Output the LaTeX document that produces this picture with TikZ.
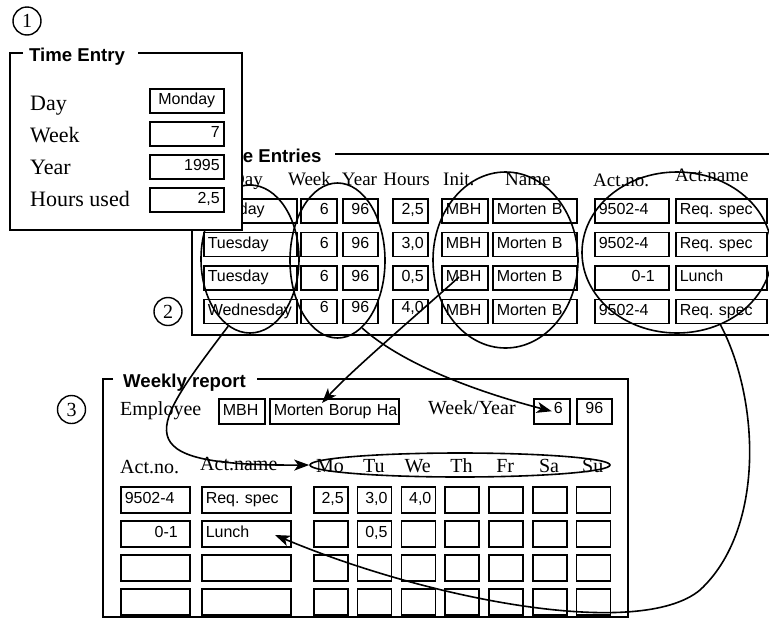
\documentclass[tikz,border=0pt]{standalone}
\usepackage{fontspec}
\setmainfont{Liberation Serif}
\newfontfamily\sansf{Liberation Sans}
\usetikzlibrary{arrows.meta,shapes.geometric}
\newcommand\fb[7][]{\pgfmathsetmacro\fbw{#5-8}\node[fld,#1,text width=\fbw pt,align=#6] (#2) at (#3,#4) {\mbox{#7}};}
\begin{document}
\frenchspacing
\begin{tikzpicture}[x=1pt,y=-1pt,
  frame/.style={line width=1.7pt},
  fld/.style={draw,line width=1.5pt,anchor=north west,minimum height=24pt,inner xsep=4pt,inner ysep=0pt,text height=11.5pt,text depth=3.5pt,font=\sansf\fontsize{16}{18}\selectfont},
  raised/.style={text depth=10pt},
  ttl/.style={anchor=base west,inner sep=0pt,font=\sansf\bfseries\fontsize{18.6}{20}\selectfont},
  lbl/.style={anchor=base west,inner sep=0pt,font=\fontsize{22}{24}\selectfont},
  hdr/.style={anchor=base,inner sep=0pt,font=\fontsize{19}{21}\selectfont},
  whdr/.style={anchor=base,inner sep=0pt,font=\fontsize{20}{22}\selectfont},
  oval/.style={draw,ellipse,line width=1.6pt,inner sep=0pt},
  num/.style={draw,circle,line width=1.4pt,minimum size=28pt,inner sep=0pt,font=\fontsize{20}{20}\selectfont},
  conn/.style={line width=1.6pt,-{Stealth[length=15pt,width=11pt,inset=4pt]}},
]
\useasboundingbox (0,0) rectangle (769,619);

% ---------- Time Entries ----------
\draw[frame] (205,154) -- (192,154) -- (192,335) -- (775,335);
\draw[frame] (335,154) -- (775,154);
\node[ttl] (tesT) at (210,162.5) {Time Entries};
\node[hdr] (hDay) at (247,185) {Day};
\node[hdr] (hWeek) at (309.5,185) {Week};
\node[hdr] (hYear) at (359.5,185) {Year};
\node[hdr] (hHours) at (406.5,185) {Hours};
\node[hdr,anchor=base west] (hInit) at (443,185) {Init.};
\node[hdr,anchor=base west] (hName) at (505,185) {Name};
\node[hdr,anchor=base west] (hActno) at (593,186) {Act.no.};
\node[hdr,anchor=base west] (hActname) at (675,181) {Act.name};

% row 1
\fb{d1}{203}{198}{93}{left}{Monday}
\fb{w1}{300}{198}{36}{right}{6\kern4pt}
\fb{y1}{342}{198}{35}{center}{96}
\fb{h1}{392}{198}{35}{right}{2,5}
\fb{i1}{441}{198}{46}{left}{MBH}
\fb{n1b}{492}{198}{84}{left}{Morten B}
\fb{a1}{594}{198}{74}{left}{9502-4}
\fb{an1}{675}{198}{91}{left}{Req. spec}
% row 2
\fb{d2}{203}{231.5}{93}{left}{Tuesday}
\fb{w2}{300}{231.5}{36}{right}{6\kern4pt}
\fb{y2}{342}{231.5}{35}{center}{96}
\fb{h2}{392}{231.5}{35}{right}{3,0}
\fb{i2}{441}{231.5}{46}{left}{MBH}
\fb{n2b}{492}{231.5}{84}{left}{Morten B}
\fb{a2}{594}{231.5}{74}{left}{9502-4}
\fb{an2}{675}{231.5}{91}{left}{Req. spec}
% row 3
\fb{d3}{203}{265}{93}{left}{Tuesday}
\fb{w3}{300}{265}{36}{right}{6\kern4pt}
\fb{y3}{342}{265}{35}{center}{96}
\fb{h3}{392}{265}{35}{right}{0,5}
\fb{i3}{441}{265}{46}{left}{MBH}
\fb{n3b}{492}{265}{84}{left}{Morten B}
\fb{a3}{594}{265}{74}{right}{0-1\kern10pt}
\fb{an3}{675}{265}{91}{left}{Lunch}
% row 4
\fb{d4}{203}{298.5}{93}{left}{Wednesday}
\fb[raised]{w4}{300}{298.5}{36}{right}{6\kern4pt}
\fb[raised]{y4}{342}{298.5}{35}{center}{96}
\fb[raised]{h4}{392}{298.5}{35}{right}{4,0}
\fb{i4}{441}{298.5}{46}{left}{MBH}
\fb{n4b}{492}{298.5}{84}{left}{Morten B}
\fb{a4}{594}{298.5}{74}{left}{9502-4}
\fb{an4}{675}{298.5}{91}{left}{Req. spec}

% ellipses over the table
\node[oval,minimum width=98pt,minimum height=148pt] (eDay) at (250,259) {};
\node[oval,minimum width=95pt,minimum height=155pt] (eWY) at (337.5,260.5) {};
\node[oval,minimum width=145pt,minimum height=176pt] (eIN) at (505.5,260) {};
\node[oval,minimum width=190pt,minimum height=161pt] (eAct) at (677,252.5) {};

% ---------- Time Entry ----------
\fill[white] (10,53) rectangle (242,230);
\draw[frame] (23,53) -- (10,53) -- (10,230) -- (242,230) -- (242,53) -- (138,53);
\node[ttl] (teT) at (29,61.5) {Time Entry};
\node[lbl] (lDay) at (30,110) {Day};
\node[lbl] (lWeek) at (30,142) {Week};
\node[lbl] (lYear) at (30,174) {Year};
\node[lbl] (lHours) at (30,206) {Hours used};
\fb{fDay}{149}{88}{74}{center}{Monday}
\fb{fWeek}{149}{121}{74}{right}{7}
\fb{fYear}{149}{154}{74}{right}{1995}
\fb{fHours}{149}{187}{74}{right}{2,5}

% ---------- step numbers ----------
\node[num] (s1) at (27,21) {1};
\node[num] (s2) at (168,311.5) {2};
\node[num] (s3) at (71.5,409.5) {3};

% ---------- Weekly report ----------
\draw[frame] (113,379) -- (103,379) -- (103,617) -- (628,617) -- (628,379) -- (257,379);
\node[ttl] (wrT) at (123,387.5) {Weekly report};
\node[whdr,anchor=base west] (emp) at (120,415) {Employee};
\fb[minimum height=25pt]{wInit}{218}{398}{46}{left}{MBH}
\fb[minimum height=25pt]{wName}{269}{398}{129}{left}{Morten Borup Ha}
\node[whdr,anchor=base west] (wyl) at (428,414) {Week/Year};
\fb[minimum height=25pt,text depth=8pt]{wWeek}{533}{398}{36}{right}{6\kern3pt}
\fb[minimum height=25pt,text depth=8pt]{wYear}{576}{398}{35}{center}{96}

\node[whdr,anchor=base west] (wAn) at (120,473) {Act.no.};
\node[whdr,anchor=base west] (wAnm) at (200,470) {Act.name};
\foreach \d [count=\i from 0] in {Mo,Tu,We,Th,Fr,Sa,Su} {
  \pgfmathsetmacro\cx{330+43.8*\i}
  \node[whdr] (hd\i) at (\cx,472) {\d};
}
\node[oval,minimum width=300pt,minimum height=24pt] (eWk) at (460,465) {};

% weekly rows
\fb[minimum height=26pt]{no1}{120}{486}{69}{left}{9502-4}
\fb[minimum height=26pt]{nm1}{201}{486}{89}{left}{Req. spec}
\fb[minimum height=26pt]{c10}{313}{486}{34}{right}{2,5}
\fb[minimum height=26pt]{c11}{356.8}{486}{34}{right}{3,0}
\fb[minimum height=26pt]{c12}{400.6}{486}{34}{right}{4,0}
\foreach \i in {3,...,6} {
  \pgfmathsetmacro\dx{313+43.8*\i}
  \fb[minimum height=26pt]{c1\i}{\dx}{486}{34}{left}{}
}
\fb[minimum height=26pt]{no2}{120}{520}{69}{right}{0-1\kern8pt}
\fb[minimum height=26pt]{nm2}{201}{520}{89}{left}{Lunch}
\fb[minimum height=26pt]{c20}{313}{520}{34}{left}{}
\fb[minimum height=26pt]{c21}{356.8}{520}{34}{right}{0,5}
\foreach \i in {2,...,6} {
  \pgfmathsetmacro\dx{313+43.8*\i}
  \fb[minimum height=26pt]{c2\i}{\dx}{520}{34}{left}{}
}
\foreach \r/\y in {3/554,4/588} {
  \fb[minimum height=26pt]{no\r}{120}{\y}{69}{left}{}
  \fb[minimum height=26pt]{nm\r}{201}{\y}{89}{left}{}
  \foreach \i in {0,...,6} {
    \pgfmathsetmacro\dx{313+43.8*\i}
    \fb[minimum height=26pt]{c\r\i}{\dx}{\y}{34}{left}{}
  }
}

% ---------- connectors ----------
\coordinate (bStart) at (459,277);
\coordinate (bEnd) at (322,403);
\coordinate (lEnd) at (275,535);
\draw[conn] (eDay.252) .. controls (150,430) and (120,466) .. (eWk.west);
\draw[conn] (bStart) .. controls (420,312) and (350,372) .. (bEnd);
\draw[conn] (eWY.290) .. controls (400,362) and (470,390) .. (wWeek.center);
\draw[conn] (eAct.301) .. controls (760,400) and (765,530) .. (700,590)
            .. controls (640,640) and (430,600) .. (lEnd);
\end{tikzpicture}
\end{document}
